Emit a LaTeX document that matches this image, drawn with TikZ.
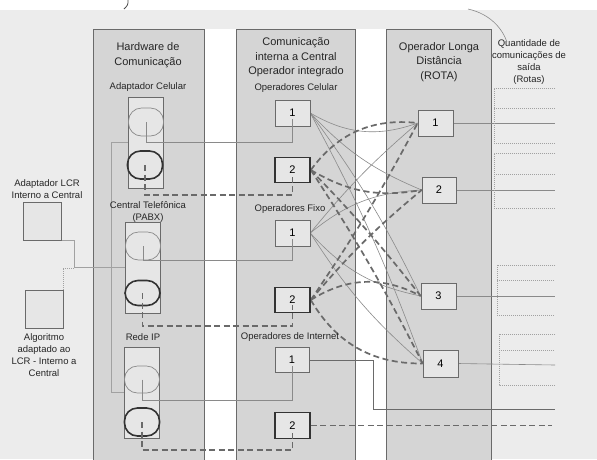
\documentclass[tikz,border=0pt]{standalone}
\usepackage{fontspec}
\setmainfont{Liberation Sans}
\usetikzlibrary{calc}
\definecolor{bggray}{HTML}{ECECEC}
\definecolor{panelgray}{HTML}{D5D5D5}
\definecolor{edgegray}{HTML}{6A6A6A}
\definecolor{boxfill}{HTML}{E6E6E6}
\definecolor{linegray}{HTML}{8A8A8A}
\definecolor{dashgray}{HTML}{6A6A6A}
\definecolor{darkedge}{HTML}{333333}
\pgfdeclarelayer{back}
\pgfdeclarelayer{lines}
\pgfsetlayers{back,lines,main}
\tikzset{
  panel/.style={fill=panelgray, draw=edgegray, line width=0.6pt},
  numbox/.style={draw=edgegray, fill=boxfill, minimum width=35pt, minimum height=26pt, inner sep=0pt, line width=0.6pt, font=\fontsize{11}{13}\selectfont},
  thickbox/.style={numbox, draw=darkedge, line width=1.6pt},
  unitrect/.style={draw=edgegray, fill=boxfill, inner sep=0pt, line width=0.6pt, minimum width=35pt, minimum height=91pt},
  stadium/.style={draw=linegray, rounded corners=13pt, minimum width=35pt, minimum height=28pt, inner sep=0pt, line width=0.7pt},
  thickstadium/.style={stadium, draw=darkedge, line width=1.6pt},
  lcrbox/.style={draw=edgegray, fill=boxfill, minimum width=38pt, minimum height=38pt, inner sep=0pt, line width=0.6pt},
  title/.style={align=center, font=\fontsize{11}{14.5}\selectfont, text=black!85},
  lbl/.style={align=center, font=\fontsize{9.5}{12}\selectfont, text=black!85},
  solidln/.style={draw=linegray, line width=0.6pt},
  dashln/.style={draw=dashgray, line width=1.7pt, dash pattern=on 6pt off 3.5pt},
  dotln/.style={draw=linegray!80, line width=0.5pt, dash pattern=on 1pt off 1pt},
}
\begin{document}
\begin{tikzpicture}[x=1pt,y=-1pt]
\useasboundingbox (0,0) rectangle (597,459);
\begin{pgfonlayer}{back}
  \fill[bggray] (0,10) rectangle (597,459);
  \fill[white] (204,29) rectangle (236,459);
  \fill[white] (355,29) rectangle (386,459);
  \path[panel] (93,29) rectangle (204,462);
  \path[panel] (236,29) rectangle (355,462);
  \path[panel] (386,29) rectangle (491,462);
\end{pgfonlayer}

% titles
\node[title] (t1) at (148,55) {Hardware de\\Comunicação};
\node[title] (t2) at (296,57.5) {Comunicação\\interna a Central\\Operador integrado};
\node[title] (t3) at (439,62) {Operador Longa\\Distância\\(ROTA)};
\node[lbl] (t4) at (529,62.5) {Quantidade de\\comunicações de\\saída\\(Rotas)};

% column 1 labels
\node[lbl] (l1) at (148,87) {Adaptador Celular};
\node[lbl] (l2) at (148,212) {Central Telefônica\\(PABX)};
\node[lbl] (l3) at (143,337) {Rede IP};
% column 2 labels
\node[lbl] (l4) at (296,88) {Operadores Celular};
\node[lbl] (l5) at (290,209) {Operadores Fixo};
\node[lbl] (l6) at (290,337) {Operadores de Internet};
% left labels
\node[lbl] (l7) at (47,189) {Adaptador LCR\\Interno a Central};
\node[lbl] (l8) at (44,355) {Algoritmo\\adaptado ao\\LCR - Interno a\\Central};

% left boxes
\node[lcrbox] (lcr1) at (42.5,221) {};
\node[lcrbox] (lcr2) at (44,309) {};

% column 1 units
\node[unitrect] (u1) at (145.5,142.5) {};
\node[unitrect] (u2) at (142.5,267.5) {};
\node[unitrect] (u3) at (141.5,392.5) {};
\node[stadium] (e1a) at (146,122) {};
\node[thickstadium] (e1b) at (145,165) {};
\node[stadium] (e2a) at (143,246) {};
\node[thickstadium, minimum height=25pt] (e2b) at (142.5,293) {};
\node[stadium, minimum height=27pt] (e3a) at (142,379.5) {};
\node[thickstadium] (e3b) at (142,422) {};

% column 2 boxes
\node[numbox] (c1) at (292.5,113) {1};
\node[thickbox, minimum height=25pt] (c2) at (292.5,170) {2};
\node[numbox] (f1) at (292.5,233) {1};
\node[thickbox, minimum height=25pt] (f2) at (292.5,300) {2};
\node[numbox, minimum width=34pt, minimum height=25pt] (i1) at (292,360) {1};
\node[thickbox] (i2) at (292.5,425.5) {2};

% column 3 boxes
\node[numbox] (r1) at (435.5,123) {1};
\node[numbox, minimum width=34pt] (r2) at (439,190) {2};
\node[numbox] (r3) at (438.5,296) {3};
\node[numbox, minimum height=27pt] (r4) at (440.5,363.5) {4};

% output coordinates
\coordinate (o1) at (555,123);
\coordinate (o2) at (555,190);
\coordinate (o3) at (555,296);
\coordinate (o4) at (555,365);
\coordinate (oi1) at (555,409);
\coordinate (oi2) at (552,425.5);

% ellipses to column 2 (over the unit rectangles and into the boxes)
\draw[solidln] (e1a.center) -- ++(0,20) -| ($(c1.center)+(0,6)$);
\draw[dashln] (e1b.center) -- ++(0,30) -| ($(c2.center)+(0,5)$);
\draw[solidln] (e2a.center) -- ++(0,14) -| ($(f1.center)+(0,6)$);
\draw[dashln] (e2b.center) -- ++(0,33) -| ($(f2.center)+(0,5)$);
\draw[solidln] (e3a.center) -- ++(0,20.5) -| ($(i1.center)+(0,6)$);
\draw[dashln] (e3b.center) -- ++(0,28) -| ($(i2.center)+(0,5)$);

\begin{pgfonlayer}{lines}
  % left boxes to PABX
  \draw[solidln, draw=linegray!80] (lcr1.south east) -- ++(12,0) |- (u2.west);
  \draw[dotln] (lcr2.north east) |- ($(lcr1.south east)+(12,27.5)$);
  % celular unit to IP unit
  \draw[solidln, draw=linegray!80] (u1.west) -- ++(-16,0) |- (u3.west);
  % mesh solid
  \draw[solidln] (c1.east) to[bend right=25] (r1.west);
  \draw[solidln] (c1.east) to[bend right=12] (r2.west);
  \draw[solidln] (c1.east) to[bend left=5] (r3.west);
  \draw[solidln] (c1.east) to[bend left=4] (r4.west);
  \draw[solidln] (f1.east) to[bend left=5] (r1.west);
  \draw[solidln] (f1.east) to[bend left=18] (r2.west);
  \draw[solidln] (f1.east) to[bend right=18] (r3.west);
  \draw[solidln] (f1.east) to[bend right=8] (r4.west);
  % mesh dashed
  \draw[dashln] (c2.east) to[bend left=30] (r1.west);
  \draw[dashln] (c2.east) to[bend right=20] (r2.west);
  \draw[dashln] (c2.east) to[bend left=3] (r3.west);
  \draw[dashln] (c2.east) to[bend left=3] (r4.west);
  \draw[dashln] (f2.east) to[bend right=3] (r1.west);
  \draw[dashln] (f2.east) to[bend left=5] (r2.west);
  \draw[dashln] (f2.east) to[bend left=30] (r3.west);
  \draw[dashln] (f2.east) to[bend right=30] (r4.west);
  % internet lines
  \draw[solidln, draw=edgegray, line width=0.9pt] (i1.east) -- ++(64.5,0) |- (oi1);
  \draw[dashln] (i2.east) -- (oi2);
  % outputs
  \draw[solidln] (r1.east) -- (o1);
  \draw[solidln] (r2.east) -- (o2);
  \draw[solidln] (r3.east) -- (o3);
  \draw[solidln] (r4.east) -- (o4);
  % route groups
  \draw[dotln] (555,88) -- (494,88) -- (494,143) -- (555,143);
  \draw[dotln] (494,108) -- (555,108);
  \draw[dotln] (555,153) -- (494,153) -- (494,208) -- (555,208);
  \draw[dotln] (494,174) -- (555,174);
  \draw[dotln] (555,265) -- (497,265) -- (497,315) -- (555,315);
  \draw[dotln] (497,280) -- (555,280);
  \draw[dotln] (555,334) -- (499,334) -- (499,385) -- (555,385);
  \draw[dotln] (499,350) -- (555,350);
\end{pgfonlayer}

% top marks
\draw[linegray, line width=0.6pt] (468,9) .. controls (490,14) and (502,28) .. (507,42);
\draw[black!70, line width=0.8pt] (128,0) .. controls (128,5) .. (124,9);
\end{tikzpicture}
\end{document}
